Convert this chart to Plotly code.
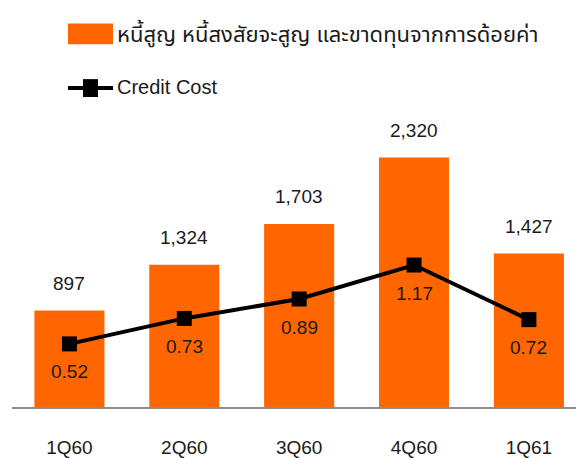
import plotly.graph_objects as go

categories = ["1Q60", "2Q60", "3Q60", "4Q60", "1Q61"]
provisions = [897, 1324, 1703, 2320, 1427]
credit_cost = [0.52, 0.73, 0.89, 1.17, 0.72]
bar_name = "หนี้สูญ หนี้สงสัยจะสูญ และขาดทุนจากการด้อยค่า"
line_name = "Credit Cost"

ORANGE = "#FF6600"
FONT = "Liberation Sans, Arial, Noto Sans Thai, Noto Sans, sans-serif"
TXT = "#1a1a1a"

fig = go.Figure()
fig.add_trace(go.Bar(x=categories, y=provisions, name=bar_name,
                     marker=dict(color=ORANGE, line=dict(width=0)),
                     width=0.61, showlegend=False, yaxis="y"))
fig.add_trace(go.Scatter(x=categories, y=credit_cost, name=line_name,
                         mode="lines+markers", yaxis="y2",
                         line=dict(color="black", width=4),
                         marker=dict(symbol="square", size=15, color="black"),
                         showlegend=False))

annotations = []
for c, v in zip(categories, provisions):
    annotations.append(dict(x=c, y=v, xref="x", yref="y", text=f"{v:,}",
                            showarrow=False, yshift=27,
                            font=dict(size=19, color=TXT, family=FONT)))
for c, v in zip(categories, credit_cost):
    annotations.append(dict(x=c, y=v, xref="x", yref="y2", text=f"{v:.2f}",
                            showarrow=False, yshift=-28,
                            font=dict(size=19, color=TXT, family=FONT)))

W, H = 576, 458

def px(x):
    return (x - 12) / (W - 12)

def py(y):
    return ((H - y) - 49) / (H - 49 - 100)

# custom legend
annotations.append(dict(x=px(115), y=py(33), xref="paper", yref="paper", text=bar_name,
                        showarrow=False, xanchor="left", yanchor="middle",
                        font=dict(size=22, color=TXT, family=FONT)))
annotations.append(dict(x=px(115), y=py(87), xref="paper", yref="paper", text=line_name,
                        showarrow=False, xanchor="left", yanchor="middle",
                        font=dict(size=20, color=TXT, family=FONT)))

shapes = [
    dict(type="rect", xref="paper", yref="paper", x0=px(68), x1=px(113),
         y0=py(44), y1=py(23), fillcolor=ORANGE, line=dict(width=0)),
    dict(type="line", xref="paper", yref="paper", x0=px(68), x1=px(113),
         y0=py(88), y1=py(88), line=dict(color="black", width=4)),
    dict(type="rect", xref="paper", yref="paper", x0=px(83), x1=px(98),
         y0=py(97), y1=py(79), fillcolor="black", line=dict(width=0)),
]

fig.update_layout(
    width=W, height=H,
    margin=dict(l=12, r=0, t=100, b=49),
    paper_bgcolor="white", plot_bgcolor="white",
    font=dict(family=FONT, size=19, color=TXT),
    showlegend=False,
    bargap=0.39,
    xaxis=dict(range=[-0.5, 4.41], showgrid=False, showline=True,
               linecolor="#8c8c8c", linewidth=2, ticks="",
               ticklabelstandoff=22,
               tickfont=dict(size=19, color=TXT, family=FONT)),
    yaxis=dict(range=[0, 2856], visible=False, showgrid=False),
    yaxis2=dict(range=[0, 2.53], visible=False, overlaying="y", side="right",
                showgrid=False),
    annotations=annotations,
    shapes=shapes,
)

fig.write_html("out.html")
